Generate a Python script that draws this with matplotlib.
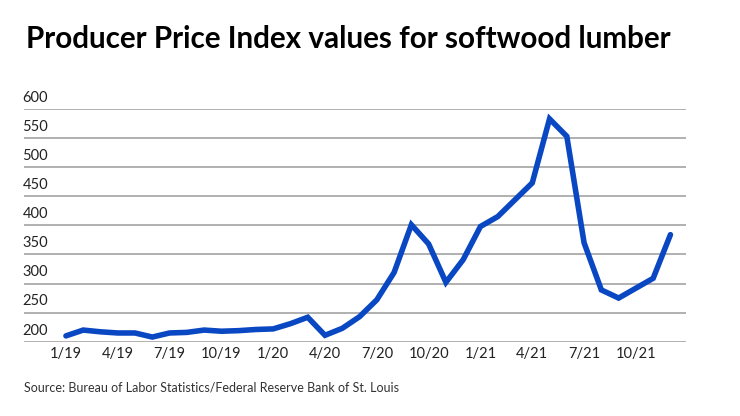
import matplotlib
matplotlib.use("Agg")
import matplotlib.pyplot as plt

plt.rcParams['font.family'] = ['Lato', 'DejaVu Sans']

# Monthly PPI values, Jan 2019 - Dec 2021
months = list(range(36))
ppi = [210, 220, 217, 215, 215, 208, 215, 216, 220, 218, 219, 221,
       222, 231, 242, 211, 223, 243, 272, 319, 401, 368, 302, 341,
       398, 415, 444, 473, 583, 553, 370, 289, 275, 292, 309, 384]

xtick_pos = [0, 3, 6, 9, 12, 15, 18, 21, 24, 27, 30, 33]
xtick_labels = ['1/19', '4/19', '7/19', '10/19', '1/20', '4/20',
                '7/20', '10/20', '1/21', '4/21', '7/21', '10/21']
yticks = [200, 250, 300, 350, 400, 450, 500, 550, 600]

fig = plt.figure(figsize=(7.4, 4.16), dpi=100)
ax = fig.add_axes([0.0324, 0.1786, 0.8946, 0.5594])

for v in yticks:
    ax.axhline(v, color='#aaaaaa', lw=1.3, zorder=1)
    ax.annotate(str(v), xy=(0, v), xycoords=('axes fraction', 'data'),
                xytext=(-1, 3), textcoords='offset points',
                ha='left', va='bottom', fontsize=10.5, color='#222222')

ax.plot(months, ppi, color='#0a47c2', lw=4, solid_joinstyle='miter',
        solid_capstyle='round', zorder=3, clip_on=False)

# x range chosen so 1/19 sits at x~66px and 12/21 at x~670px
ax.set_xlim(-2.43, 35.9)
ax.set_ylim(200, 600)
ax.set_xticks(xtick_pos)
ax.set_xticklabels(xtick_labels, fontsize=10.5, color='#222222')
ax.tick_params(axis='x', length=0, pad=4)
ax.set_yticks([])
for s in ax.spines.values():
    s.set_visible(False)

fig.text(0.035, 0.8846, 'Producer Price Index values for softwood lumber',
         fontsize=21.3, fontweight='bold', ha='left', va='baseline')
fig.text(0.032, 0.068, 'Source: Bureau of Labor Statistics/Federal Reserve Bank of St. Louis',
         fontsize=9, color='#333333', ha='left', va='center')

fig.savefig('out.png', dpi=100)
